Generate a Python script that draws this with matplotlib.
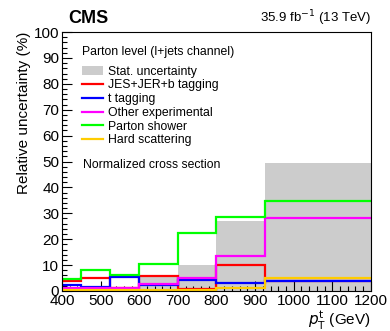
import matplotlib
matplotlib.use("Agg")
import matplotlib.pyplot as plt
from matplotlib.patches import Patch
from matplotlib.lines import Line2D
from matplotlib.ticker import MultipleLocator
import numpy as np

bin_edges = [400, 450, 525, 600, 700, 800, 925, 1200]
stat_unc = [1.0, 1.2, 1.0, 5.7, 10.0, 27.1, 49.6]
jes_jer_b = [4.0, 4.9, 1.3, 5.9, 0.9, 10.1, 3.9]
t_tagging = [2.2, 1.4, 5.3, 2.3, 4.2, 3.1, 3.8]
other_exp = [1.3, 1.3, 1.0, 2.5, 5.1, 13.6, 28.2]
parton_shower = [4.5, 8.2, 6.2, 10.4, 22.4, 28.7, 34.6]
hard_scatter = [0.4, 0.4, 0.5, 0.5, 0.5, 1.3, 5.1]

labels = ["Stat. uncertainty", "JES+JER+b tagging", "t tagging",
          "Other experimental", "Parton shower", "Hard scattering"]

plt.rcParams['font.family'] = ['Liberation Sans', 'DejaVu Sans']
fig = plt.figure(figsize=(3.9, 3.31), dpi=100)
ax = fig.add_axes([0.159, 0.121, 0.792, 0.782])

ax.stairs(stat_unc, bin_edges, fill=True, color='#cccccc', lw=0, zorder=1)
series = [(jes_jer_b, '#ff0000'), (t_tagging, '#0000ff'), (other_exp, '#ff00ff'),
          (parton_shower, '#00ff00'), (hard_scatter, '#ffcc00')]
for vals, c in series:
    ax.stairs(vals, bin_edges, baseline=None, color=c, lw=1.6, zorder=3)

ax.set_xlim(400, 1200)
ax.set_ylim(0, 100)
ax.xaxis.set_major_locator(MultipleLocator(100))
ax.xaxis.set_minor_locator(MultipleLocator(20))
ax.yaxis.set_major_locator(MultipleLocator(10))
ax.yaxis.set_minor_locator(MultipleLocator(2))
ax.tick_params(which='both', direction='in', top=False, right=False, labelsize=11, pad=2)
ax.tick_params(which='major', length=7, width=0.8)
ax.tick_params(which='minor', length=3.5, width=0.8)
ax.set_axisbelow(False)
for s in ax.spines.values():
    s.set_linewidth(0.8)
    s.set_zorder(5)

ax.set_ylabel("Relative uncertainty (%)", fontsize=11, loc='top', labelpad=2)
ax.set_xlabel(r"$p_{\mathrm{T}}^{\mathrm{t}}$ (GeV)", fontsize=11, loc='right', labelpad=1)

fig.text(0.175, 0.945, "CMS", fontsize=13, fontweight='bold', ha='left', va='center')
fig.text(0.951, 0.945, r"35.9 fb$^{-1}$ (13 TeV)", fontsize=9.5, ha='right', va='center')

handles = [Patch(facecolor='#cccccc', edgecolor='none')] + \
          [Line2D([], [], color=c, lw=1.6) for _, c in series]
ax.text(0.065, 0.922, "Parton level (l+jets channel)", transform=ax.transAxes,
        fontsize=8.8, ha='left', va='center')
leg = ax.legend(handles, labels, loc='upper left', bbox_to_anchor=(0.065, 0.870),
                frameon=False, fontsize=8.8, handlelength=1.7, handletextpad=0.4,
                labelspacing=0.14, borderaxespad=0, borderpad=0)
ax.text(0.067, 0.486, "Normalized cross section", transform=ax.transAxes,
        fontsize=8.8, ha='left', va='center')

fig.savefig("out.png", dpi=100)
